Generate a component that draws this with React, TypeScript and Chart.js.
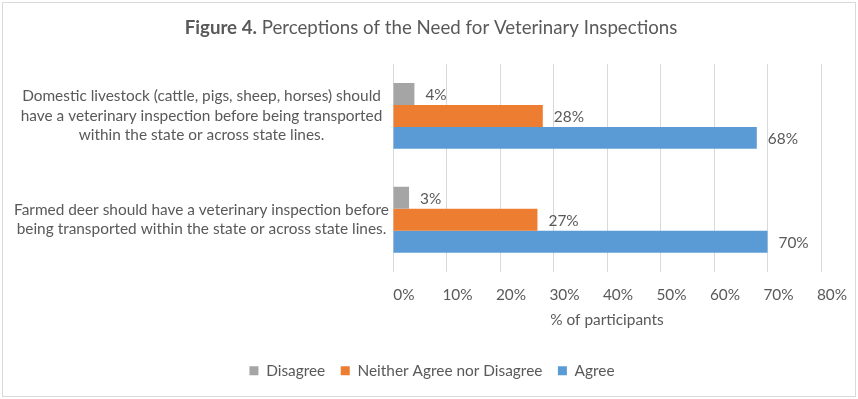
import React, { useEffect, useRef } from "react";
import { Chart, registerables } from "chart.js";

Chart.register(...registerables);

const categories: string[][] = [
  [
    "Domestic livestock (cattle, pigs, sheep, horses) should",
    "have a veterinary inspection before being transported",
    "within the state or across state lines.",
  ],
  [
    "Farmed deer should have a veterinary inspection before",
    "being transported within the state or across state lines.",
  ],
];
const seriesNames = ["Disagree", "Neither Agree nor Disagree", "Agree"];
const disagreeValues = [4, 3];
const neitherValues = [28, 27];
const agreeValues = [68, 70];
const xTickValues = [0, 10, 20, 30, 40, 50, 60, 70, 80];
const titleBold = "Figure 4.";
const titleRest = " Perceptions of the Need for Veterinary Inspections";
const xAxisTitle = "% of participants";

const colors = ["#A5A5A5", "#ED7D31", "#5B9BD5"];
const textColor = "#595959";
const gridColor = "#D9D9D9";
const FONT = "Lato";
const FS = 15.4;

const titlePlugin = {
  id: "mixedTitle",
  afterDraw(chart: any) {
    const ctx = chart.ctx;
    ctx.save();
    ctx.fillStyle = textColor;
    ctx.textBaseline = "middle";
    ctx.textAlign = "left";
    const boldFont = `bold 18.7px ${FONT}`;
    const normalFont = `18.7px ${FONT}`;
    ctx.font = boldFont;
    const wa = ctx.measureText(titleBold).width;
    ctx.font = normalFont;
    const wb = ctx.measureText(titleRest).width;
    const x0 = chart.width / 2 + 2 - (wa + wb) / 2;
    const y = 28;
    ctx.font = boldFont;
    ctx.fillText(titleBold, x0, y);
    ctx.font = normalFont;
    ctx.fillText(titleRest, x0 + wa, y);
    ctx.restore();
  },
};

const valueLabelPlugin = {
  id: "valueLabels",
  afterDatasetsDraw(chart: any) {
    const ctx = chart.ctx;
    ctx.save();
    ctx.fillStyle = textColor;
    ctx.font = `${FS}px ${FONT}`;
    ctx.textAlign = "left";
    ctx.textBaseline = "middle";
    chart.data.datasets.forEach((ds: any, i: number) => {
      const meta = chart.getDatasetMeta(i);
      meta.data.forEach((el: any, j: number) => {
        ctx.fillText(`${ds.data[j]}%`, el.x + 11, el.y + 1);
      });
    });
    ctx.restore();
  },
};

export default function App() {
  const canvasRef = useRef<HTMLCanvasElement | null>(null);

  useEffect(() => {
    document.body.style.margin = "0";
    const canvas = canvasRef.current;
    if (!canvas) return;
    const chart = new Chart(canvas, {
      type: "bar",
      data: {
        labels: categories,
        datasets: [
          { label: seriesNames[0], data: disagreeValues, backgroundColor: colors[0] },
          { label: seriesNames[1], data: neitherValues, backgroundColor: colors[1] },
          { label: seriesNames[2], data: agreeValues, backgroundColor: colors[2] },
        ],
      },
      options: {
        indexAxis: "y",
        responsive: false,
        animation: false,
        devicePixelRatio: 1,
        datasets: {
          bar: { categoryPercentage: 0.635, barPercentage: 1 },
        },
        layout: { padding: { top: 64, right: 0, bottom: 10.5, left: 6 } },
        scales: {
          x: {
            type: "linear",
            min: 0,
            max: 80,
            afterBuildTicks: (scale: any) => {
              scale.ticks = xTickValues.map((v) => ({ value: v }));
            },
            afterFit: (scale: any) => {
              scale.height = 76;
            },
            ticks: {
              color: textColor,
              font: { family: FONT, size: FS },
              padding: 14,
              labelOffset: 11,
              callback: (v: any) => `${v}%`,
            },
            grid: { color: gridColor, drawTicks: false, lineWidth: 1 },
            border: { display: false },
            title: {
              display: true,
              text: xAxisTitle,
              color: textColor,
              font: { family: FONT, size: FS },
              padding: { top: 0, bottom: 18 },
            },
          },
          y: {
            type: "category",
            offset: true,
            grid: { display: false, drawTicks: false },
            border: { display: false },
            afterFit: (scale: any) => {
              scale.width = 387;
            },
            ticks: {
              color: textColor,
              crossAlign: "center",
              padding: 4,
              font: { family: FONT, size: FS, lineHeight: 1.27 },
            },
          },
          yRight: {
            type: "category",
            position: "right",
            display: true,
            grid: { display: false, drawTicks: false },
            border: { display: false },
            ticks: { display: false },
            afterFit: (scale: any) => {
              scale.width = 37;
            },
          },
        },
        plugins: {
          legend: {
            position: "bottom",
            labels: {
              boxWidth: 9,
              boxHeight: 9,
              padding: 15.5,
              color: textColor,
              font: { family: FONT, size: FS },
            },
          },
          title: { display: false },
          tooltip: { enabled: false },
        },
      },
      plugins: [titlePlugin, valueLabelPlugin],
    });
    return () => chart.destroy();
  }, []);

  return (
    <div style={{ position: "relative", width: 858, height: 399, background: "#fff" }}>
      <canvas ref={canvasRef} width={858} height={399} style={{ display: "block" }} />
      <div
        style={{
          position: "absolute",
          left: 2,
          top: 2,
          width: 854,
          height: 395,
          boxSizing: "border-box",
          border: `1px solid ${gridColor}`,
          pointerEvents: "none",
        }}
      />
    </div>
  );
}
